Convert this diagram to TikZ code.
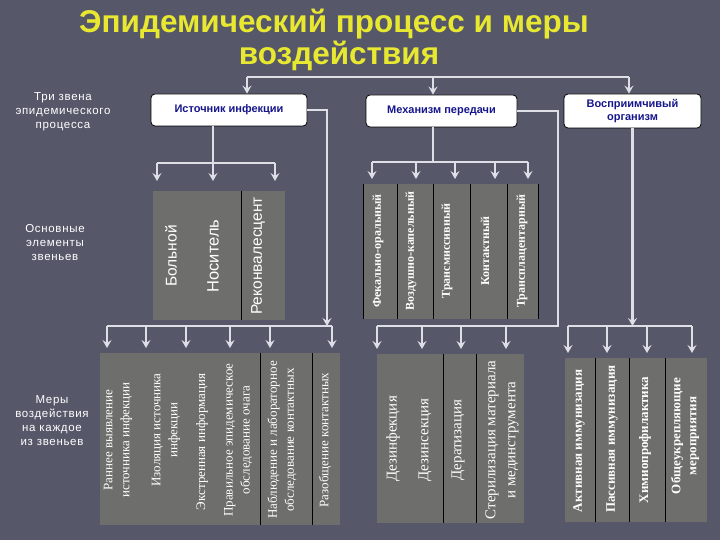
\documentclass[tikz,border=0pt]{standalone}
\usepackage{fontspec}
\setmainfont{Liberation Serif}
\setsansfont{Liberation Sans}
\newfontfamily\lblfont[LetterSpace=6]{Liberation Sans}
\usetikzlibrary{arrows.meta}
\definecolor{bgc}{RGB}{86,88,106}
\definecolor{colg}{RGB}{110,110,108}
\definecolor{arrc}{RGB}{222,222,230}
\definecolor{ttl}{RGB}{232,232,48}
\definecolor{navy}{RGB}{22,22,140}
\tikzset{
  conn/.style={draw=arrc, line width=2.5pt},
  arr/.style={conn, -{Stealth[length=8pt,width=9pt,inset=3pt]}},
  topbox/.style={draw=black, line width=0.8pt, fill=white, rounded corners=4pt,
    text=navy, font=\sffamily\bfseries\fontsize{11}{13}\selectfont, align=center, inner sep=0pt},
  colbox/.style={fill=colg, draw=none, inner sep=0pt, anchor=north west},
  sepline/.style={draw=black, line width=1pt},
  lbl/.style={text=white, font=\lblfont\fontsize{11.5}{14}\selectfont, align=center},
  eltxt/.style={text=white, rotate=90, font=\sffamily\fontsize{15.5}{18}\selectfont},
  mechtxt/.style={text=white, rotate=90, font=\bfseries\fontsize{12}{14}\selectfont},
  istm/.style={text=white, rotate=90, align=center, font=\fontsize{13}{17}\selectfont},
  mechm/.style={text=white, rotate=90, align=center, font=\fontsize{15}{20}\selectfont},
  vosm/.style={text=white, rotate=90, align=center, font=\bfseries\fontsize{13}{16}\selectfont},
  ttlstyle/.style={text=ttl, font=\sffamily\bfseries\fontsize{31.5}{34}\selectfont, anchor=base}
}
\begin{document}
\begin{tikzpicture}[x=1pt,y=-1pt]
\useasboundingbox (0,0) rectangle (720,540);
\fill[bgc] (0,0) rectangle (720,540);

% title
\node[ttlstyle] (t1txt) at (334,33) {Эпидемический процесс и меры};
\node[ttlstyle] (t2txt) at (339,65) {воздействия};

% left labels
\node[lbl] (l1) at (63,112) {Три звена\\эпидемического\\процесса};
\node[lbl] (l2) at (55,243) {Основные\\элементы\\звеньев};
\node[lbl] (l3) at (52,421) {Меры\\воздействия\\на каждое\\из звеньев};

% top boxes
\node[topbox, minimum width=156pt, minimum height=32pt] (ist) at (229,110) {Источник инфекции};
\node[topbox, minimum width=151pt, minimum height=32pt] (mech) at (441.5,111) {Механизм передачи};
\node[topbox, minimum width=137pt, minimum height=34pt] (vos) at (632.5,111) {Восприимчивый\\организм};

% upper columns: source
\node[colbox, minimum width=88pt, minimum height=129pt] (bol) at (153,191) {};
\node[colbox, minimum width=44pt, minimum height=129pt] (rek) at (241,191) {};
\draw[sepline] (bol.north east) -- (bol.south east);
\node[eltxt] (tbol) at (171,256) {Больной};
\node[eltxt, font=\sffamily\fontsize{16.5}{18}\selectfont] (tnos) at (213,256) {Носитель};
\node[eltxt] (trek) at (258,256) {Реконвалесцент};

% upper columns: mechanism
\node[colbox, minimum width=34pt, minimum height=135pt] (m1) at (363,184) {};
\node[colbox, minimum width=36pt, minimum height=135pt] (m2) at (397,184) {};
\node[colbox, minimum width=37pt, minimum height=135pt] (m3) at (433,184) {};
\node[colbox, minimum width=37pt, minimum height=135pt] (m4) at (470,184) {};
\node[colbox, minimum width=31pt, minimum height=135pt] (m5) at (507,184) {};
\foreach \n in {m1,m2,m3,m4,m5} {\draw[sepline] (\n.north west) -- (\n.south west);}
\draw[sepline] (m5.north east) -- (m5.south east);
\node[mechtxt] (tm1) at (378,251) {Фекально-оральный};
\node[mechtxt] (tm2) at (411,251) {Воздушно-капельный};
\node[mechtxt] (tm3) at (447,251) {Трансмиссивный};
\node[mechtxt] (tm4) at (485,251) {Контактный};
\node[mechtxt] (tm5) at (522,251) {Трансплацентарный};

% lower columns: source measures
\node[colbox, minimum width=160pt, minimum height=172pt] (i1) at (100,353) {};
\node[colbox, minimum width=52pt, minimum height=172pt] (i2) at (260,353) {};
\node[colbox, minimum width=28pt, minimum height=172pt] (i3) at (312,353) {};
\draw[sepline] (i2.north west) -- (i2.south west);
\draw[sepline] (i3.north west) -- (i3.south west);
\node[istm] (ti1) at (118,440) {Раннее выявление\\источника инфекции};
\node[istm] (ti2) at (166,430) {Изоляция источника\\инфекции};
\node[istm] (ti3) at (202,442) {Экстренная информация};
\node[istm] (ti4) at (238,440) {Правильное эпидемическое\\обследование очага};
\node[istm] (ti5) at (282,440) {Наблюдение и лабораторное\\обследование контактных};
\node[istm] (ti6) at (325,440) {Разобщение контактных};

% lower columns: mechanism measures
\node[colbox, minimum width=66pt, minimum height=169pt] (k1) at (377,354) {};
\node[colbox, minimum width=33pt, minimum height=169pt] (k2) at (443,354) {};
\node[colbox, minimum width=48pt, minimum height=169pt] (k3) at (476,354) {};
\draw[sepline] (k2.north west) -- (k2.south west);
\draw[sepline] (k3.north west) -- (k3.south west);
\node[mechm] (tk1) at (393,439) {Дезинфекция};
\node[mechm] (tk2) at (425,440) {Дезинсекция};
\node[mechm] (tk3) at (458,440) {Дератизация};
\node[mechm] (tk4) at (502,440) {Стерилизация материала\\и мединструмента};

% lower columns: susceptible organism measures
\node[colbox, minimum width=30pt, minimum height=164pt] (v1) at (565,358) {};
\node[colbox, minimum width=34pt, minimum height=164pt] (v2) at (595,358) {};
\node[colbox, minimum width=36pt, minimum height=164pt] (v3) at (629,358) {};
\node[colbox, minimum width=42pt, minimum height=164pt] (v4) at (665,358) {};
\foreach \n in {v2,v3,v4} {\draw[sepline] (\n.north west) -- (\n.south west);}
\node[vosm] (tv1) at (579,441) {Активная иммунизация};
\node[vosm] (tv2) at (612,439) {Пассивная иммунизация};
\node[vosm] (tv3) at (645,440) {Химиопрофилактика};
\node[vosm] (tv4) at (685,436) {Общеукрепляющие\\мероприятия};

% ---- connectors ----
% top bar
\coordinate (p1) at (247,77);
\coordinate (p2) at (433,77);
\coordinate (p3) at (629,77);
\draw[conn] (p1) -- (p3);
\draw[arr] (p1) -- (p1 |- ist.north);
\draw[arr] (p2) -- (p2 |- mech.north);
\draw[arr] (p3) -- (p3 |- vos.north);

% source -> elements
\coordinate (a1) at (157,163);
\coordinate (a2) at (213,163);
\coordinate (a3) at (275,163);
\draw[conn] (ist.south -| a2) -- (a2);
\draw[conn] (a1) -- (a3);
\draw[arr, shorten >=10pt] (a1) -- (a1 |- bol.north);
\draw[arr, shorten >=10pt] (a2) -- (a2 |- bol.north);
\draw[arr, shorten >=10pt] (a3) -- (a3 |- rek.north);

% mechanism -> elements
\coordinate (b0) at (433,162);
\coordinate (b1) at (372,162);
\coordinate (b2) at (416,162);
\coordinate (b3) at (455,162);
\coordinate (b4) at (495,162);
\coordinate (b5) at (528,162);
\draw[conn] (mech.south -| b0) -- (b0);
\draw[conn] (b1) -- (b5);
\draw[arr, shorten >=5pt] (b1) -- (b1 |- m1.north);
\draw[arr, shorten >=5pt] (b2) -- (b2 |- m2.north);
\draw[arr, shorten >=5pt] (b3) -- (b3 |- m3.north);
\draw[arr, shorten >=5pt] (b4) -- (b4 |- m4.north);
\draw[arr, shorten >=5pt] (b5) -- (b5 |- m5.north);

% source -> measures
\coordinate (cj) at (327,326);
\coordinate (c1) at (107,326);
\coordinate (c2) at (146,326);
\coordinate (c3) at (186,326);
\coordinate (c4) at (230,326);
\coordinate (c5) at (270,326);
\coordinate (c6) at (332,326);
\draw[conn] (c1) -- (c6);
\draw[arr] (ist.east) -| (cj);
\draw[arr, shorten >=5pt] (c1) -- (c1 |- i1.north);
\draw[arr, shorten >=5pt] (c2) -- (c2 |- i1.north);
\draw[arr, shorten >=5pt] (c3) -- (c3 |- i1.north);
\draw[arr, shorten >=5pt] (c4) -- (c4 |- i1.north);
\draw[arr, shorten >=5pt] (c5) -- (c5 |- i2.north);
\draw[arr, shorten >=5pt] (c6) -- (c6 |- i3.north);

% mechanism -> measures
\coordinate (dj) at (558,326);
\coordinate (d1) at (377,326);
\coordinate (d2) at (422,326);
\coordinate (d3) at (461,326);
\coordinate (d4) at (506,326);
\draw[conn] (mech.east) -| (dj) -- (d1);
\draw[arr, shorten >=5pt] (d1) -- (d1 |- k1.north);
\draw[arr, shorten >=5pt] (d2) -- (d2 |- k1.north);
\draw[arr, shorten >=5pt] (d3) -- (d3 |- k2.north);
\draw[arr, shorten >=5pt] (d4) -- (d4 |- k3.north);

% susceptible organism -> measures
\coordinate (ej) at (632.5,326);
\coordinate (e1) at (568,326);
\coordinate (e2) at (607,326);
\coordinate (e3) at (647,326);
\coordinate (e4) at (692,326);
\draw[conn] (e1) -- (e4);
\draw[arr] (vos.south) -- (ej);
\draw[arr, shorten >=5pt] (e1) -- (e1 |- v1.north);
\draw[arr, shorten >=5pt] (e2) -- (e2 |- v2.north);
\draw[arr, shorten >=5pt] (e3) -- (e3 |- v3.north);
\draw[arr, shorten >=5pt] (e4) -- (e4 |- v4.north);
\end{tikzpicture}
\end{document}
